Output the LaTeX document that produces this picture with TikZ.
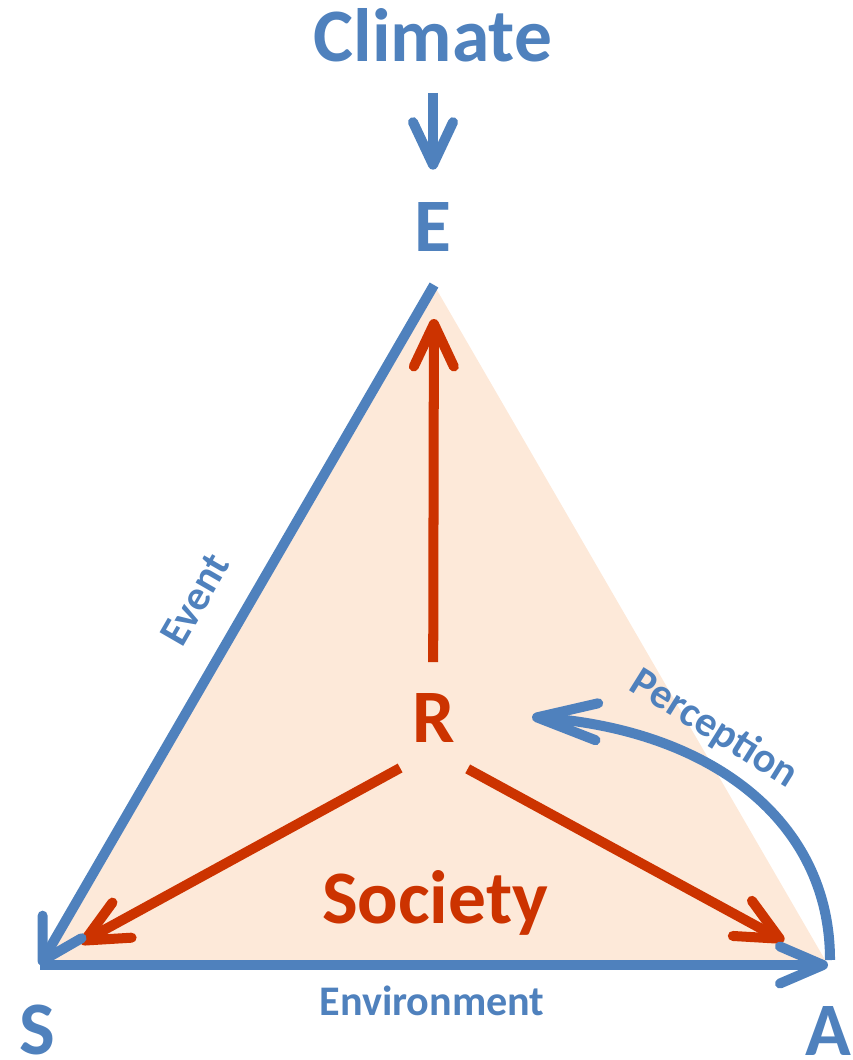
\documentclass[tikz,border=0pt]{standalone}
\usepackage{fontspec}
\setmainfont{Carlito}
\usetikzlibrary{arrows.meta}

\definecolor{esblue}{HTML}{4F81BD}
\definecolor{esred}{HTML}{CC3300}
\definecolor{esfill}{HTML}{FDE9D9}

\begin{document}
\begin{tikzpicture}[
    x=0.02cm, y=-0.02cm,
    big/.style = {
        font=\fontsize{43}{50}\selectfont\bfseries,
        inner sep=0pt, anchor=base
    },
    small/.style = {
        font=\fontsize{24}{28}\selectfont\bfseries,
        inner sep=0pt, anchor=base, text=esblue
    },
    side/.style = {draw=esblue, line width=5.7pt},
    spoke/.style = {
        draw=esred, line width=5.7pt,
        -{Straight Barb[round, length=0.85cm, width=0.8cm]}
    },
]
\useasboundingbox (0,0) rectangle (852,1060);

%% ── Triangle corners ─────────────────────────────────────────────────
\coordinate (tE)  at (434, 285);
\coordinate (tS)  at (40, 965);
\coordinate (tA)  at (828, 965);
\coordinate (hub) at (433, 750);

\fill[esfill] (tE) -- (tS) -- (tA) -- cycle;

%% ── Labels ───────────────────────────────────────────────────────────
\node[big, text=esblue] (climate) at (433, 62)   {Climate};
\node[big, text=esblue] (E)       at (433, 252)  {E};
\node[big, text=esblue] (S)       at (37, 1054)  {S};
\node[big, text=esblue] (A)       at (828, 1055) {A};
\node[big, text=esred]  (R)       at (434, 742)  {R};
\node[big, text=esred]  (society) at (435, 923)  {Society};

\node[small] (env)   at (432, 1015) {Environment};
\node[small, rotate=60]  (event) at (207, 606) {Event};
\node[small, rotate=-32] (perc)  at (708, 739) {Perception};

%% ── Society spokes ───────────────────────────────────────────────────
\draw[spoke, shorten <=1.76cm, shorten >=0.68cm] (hub) -- (tE);
\draw[spoke, shorten <=0.75cm, shorten >=0.92cm] (hub) -- (tS);
\draw[spoke, shorten <=0.79cm, shorten >=1.0cm]  (hub) -- (tA);

%% ── Sides ────────────────────────────────────────────────────────────
\draw[side, -{Straight Barb[round, length=0.78cm, width=0.9cm]}]
  (tE) -- (tS);
\draw[side, -{Straight Barb[round, length=0.86cm, width=0.74cm]}]
  (tS) -- (tA);

%% perception loop back towards R
\coordinate (pA) at (830, 960);
\coordinate (pR) at (532, 717);
\draw[side, -{Straight Barb[round, length=1.2cm, width=0.74cm]}]
  (pA) .. controls (830, 820) and (710, 730) .. (pR);

%% climate forcing
\draw[side, -{Straight Barb[round, length=0.85cm, width=0.8cm]},
      shorten <=0.6cm, shorten >=0.66cm]
  (climate.south) -- (E.north);

\end{tikzpicture}
\end{document}
